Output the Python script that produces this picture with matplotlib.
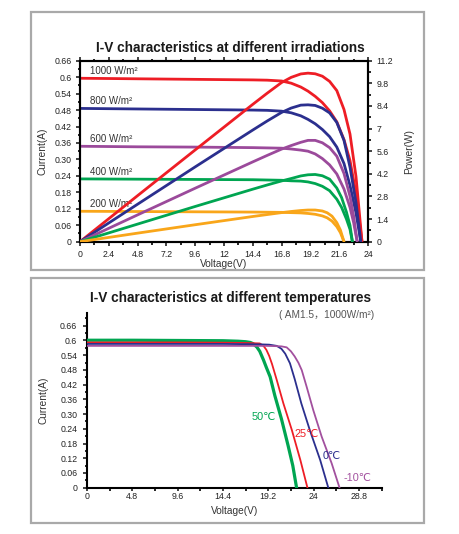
import matplotlib
matplotlib.use("Agg")
import matplotlib.pyplot as plt
from matplotlib.patches import Rectangle
from matplotlib.ticker import FixedLocator, FixedFormatter, MultipleLocator

plt.rcParams['font.family'] = ['Liberation Sans', 'DejaVu Sans', 'Noto Sans CJK SC']

# ---------------- Data: irradiation chart ----------------
irr_labels = ["1000 W/m²", "800 W/m²", "600 W/m²", "400 W/m²", "200 W/m²"]
irr_colors = ["#ee1d25", "#2b2f8e", "#9b4a9b", "#00a551", "#f9a61a"]

v_1000 = [0, 4.8, 9.6, 14.4, 15.6, 16.8, 17.6, 18.4, 19.0, 19.6, 20.2, 20.8, 21.4, 22.0, 22.5, 23.0, 23.5]
i_1000 = [0.596, 0.594, 0.592, 0.590, 0.589, 0.586, 0.578, 0.564, 0.549, 0.530, 0.507, 0.477, 0.437, 0.372, 0.296, 0.175, 0.0]
p_1000 = [0, 2.85, 5.68, 8.50, 9.19, 9.85, 10.17, 10.38, 10.43, 10.39, 10.24, 9.92, 9.35, 8.18, 6.66, 4.03, 0.0]

v_800 = [0, 4.8, 9.6, 14.4, 15.6, 16.8, 17.6, 18.4, 19.0, 19.6, 20.2, 20.8, 21.4, 22.0, 22.5, 23.0, 23.4]
i_800 = [0.486, 0.484, 0.482, 0.480, 0.479, 0.476, 0.470, 0.459, 0.446, 0.430, 0.409, 0.383, 0.345, 0.285, 0.205, 0.105, 0.0]
p_800 = [0, 2.32, 4.63, 6.91, 7.47, 8.00, 8.27, 8.45, 8.47, 8.43, 8.26, 7.97, 7.38, 6.27, 4.61, 2.42, 0.0]

v_600 = [0, 4.8, 9.6, 14.4, 15.6, 16.8, 17.6, 18.4, 19.0, 19.6, 20.2, 20.8, 21.4, 22.0, 22.5, 22.8, 23.1]
i_600 = [0.348, 0.346, 0.345, 0.343, 0.342, 0.341, 0.338, 0.334, 0.330, 0.320, 0.303, 0.280, 0.247, 0.192, 0.125, 0.070, 0.0]
p_600 = [0, 1.66, 3.31, 4.94, 5.34, 5.73, 5.95, 6.15, 6.27, 6.27, 6.12, 5.82, 5.29, 4.22, 2.81, 1.60, 0.0]

v_400 = [0, 4.8, 9.6, 14.4, 15.6, 16.8, 17.6, 18.4, 19.0, 19.6, 20.2, 20.8, 21.4, 21.8, 22.2, 22.5, 22.7]
i_400 = [0.229, 0.228, 0.227, 0.226, 0.225, 0.224, 0.222, 0.221, 0.218, 0.212, 0.202, 0.186, 0.155, 0.125, 0.083, 0.045, 0.0]
p_400 = [0, 1.09, 2.18, 3.25, 3.51, 3.76, 3.91, 4.07, 4.14, 4.16, 4.08, 3.87, 3.32, 2.73, 1.84, 1.01, 0.0]

v_200 = [0, 4.8, 9.6, 14.4, 15.6, 16.8, 17.6, 18.4, 19.0, 19.6, 20.2, 20.6, 21.0, 21.4, 21.7, 22.0]
i_200 = [0.111, 0.110, 0.109, 0.108, 0.1075, 0.107, 0.106, 0.105, 0.103, 0.100, 0.094, 0.087, 0.075, 0.055, 0.033, 0.0]
p_200 = [0, 0.53, 1.05, 1.56, 1.68, 1.80, 1.87, 1.93, 1.96, 1.96, 1.90, 1.79, 1.58, 1.18, 0.72, 0.0]

irr_v = [v_1000, v_800, v_600, v_400, v_200]
irr_i = [i_1000, i_800, i_600, i_400, i_200]
irr_p = [p_1000, p_800, p_600, p_400, p_200]

cur_ticks = [0, 0.06, 0.12, 0.18, 0.24, 0.30, 0.36, 0.42, 0.48, 0.54, 0.6, 0.66]
cur_tick_labels = ["0", "0.06", "0.12", "0.18", "0.24", "0.30", "0.36", "0.42", "0.48", "0.54", "0.6", "0.66"]
pow_ticks = [0, 1.4, 2.8, 4.2, 5.6, 7, 8.4, 9.8, 11.2]
pow_tick_labels = ["0", "1.4", "2.8", "4.2", "5.6", "7", "8.4", "9.8", "11.2"]
volt_ticks_top = [0, 2.4, 4.8, 7.2, 9.6, 12, 14.4, 16.8, 19.2, 21.6, 24]
volt_labels_top = ["0", "2.4", "4.8", "7.2", "9.6", "12", "14.4", "16.8", "19.2", "21.6", "24"]

# ---------------- Data: temperature chart ----------------
temp_labels = ["50℃", "25℃", "0℃", "-10℃"]
temp_colors = ["#00a551", "#ee1d25", "#2b2f8e", "#a2509e"]

v_50 = [0, 4.8, 9.6, 14.4, 16.0, 16.8, 17.3, 17.6, 18.0, 18.3, 18.7, 19.0, 19.4, 19.9, 20.6, 21.3, 21.8, 22.2]
i_50 = [0.601, 0.601, 0.600, 0.599, 0.597, 0.595, 0.592, 0.587, 0.573, 0.556, 0.520, 0.490, 0.452, 0.375, 0.280, 0.172, 0.090, 0.0]

v_25 = [0, 4.8, 9.6, 14.4, 16.5, 17.5, 18.3, 18.7, 19.0, 19.3, 19.6, 20.1, 20.8, 21.7, 22.6, 23.35]
i_25 = [0.592, 0.592, 0.592, 0.591, 0.590, 0.589, 0.588, 0.578, 0.562, 0.537, 0.504, 0.439, 0.344, 0.235, 0.113, 0.0]

v_0 = [0, 4.8, 9.6, 14.4, 17.0, 18.5, 19.3, 20.1, 20.6, 21.0, 21.5, 22.0, 22.7, 23.6, 24.7, 25.56]
i_0 = [0.586, 0.586, 0.586, 0.586, 0.585, 0.584, 0.583, 0.578, 0.566, 0.546, 0.507, 0.443, 0.344, 0.235, 0.113, 0.0]

v_m10 = [0, 4.8, 9.6, 14.4, 17.0, 19.0, 20.0, 20.6, 21.15, 21.6, 22.0, 22.4, 22.75, 23.27, 23.97, 24.86, 25.92, 26.75]
i_m10 = [0.578, 0.578, 0.578, 0.578, 0.578, 0.578, 0.577, 0.576, 0.572, 0.556, 0.535, 0.509, 0.479, 0.411, 0.316, 0.208, 0.099, 0.0]

temp_v = [v_50, v_25, v_0, v_m10]
temp_i = [i_50, i_25, i_0, i_m10]
temp_label_pos = [(17.4, 0.289), (22.0, 0.219), (24.96, 0.129), (27.15, 0.041)]
temp_lw = [2.3, 1.3, 1.3, 1.3]

volt_ticks_bot = [0, 4.8, 9.6, 14.4, 19.2, 24, 28.8]
volt_labels_bot = ["0", "4.8", "9.6", "14.4", "19.2", "24", "28.8"]

# ---------------- Figure ----------------
W, H = 460, 534
fig = plt.figure(figsize=(W / 100, H / 100), dpi=100)
fig.patch.set_facecolor("white")

def px_rect(x0, y0, x1, y1):
    return [x0 / W, 1 - y1 / H, (x1 - x0) / W, (y1 - y0) / H]

# panel borders
for (x0, y0, x1, y1) in [(31, 12, 424, 270), (31, 278, 424, 523)]:
    fig.patches.append(Rectangle((x0 / W, 1 - y1 / H), (x1 - x0) / W, (y1 - y0) / H,
                                 transform=fig.transFigure, fill=False,
                                 edgecolor="#a9a9a9", linewidth=1.6))

TICK_FS = 6.3
LAB_FS = 7.3

# ---------------- Top chart ----------------
ax1 = fig.add_axes(px_rect(80, 60.7, 368, 241.7))
for k in range(len(irr_v)):
    ax1.plot(irr_v[k], irr_i[k], color=irr_colors[k], lw=2.0, solid_capstyle="round", zorder=3)
ax1.set_xlim(0, 24)
ax1.set_ylim(0, 0.66)
ax1.yaxis.set_major_locator(FixedLocator(cur_ticks))
ax1.yaxis.set_major_formatter(FixedFormatter(cur_tick_labels))
ax1.yaxis.set_minor_locator(MultipleLocator(0.03))
ax1.xaxis.set_major_locator(FixedLocator(volt_ticks_top))
ax1.xaxis.set_major_formatter(FixedFormatter(volt_labels_top))
ax1.xaxis.set_minor_locator(MultipleLocator(1.2))
ax1.tick_params(axis="both", which="major", direction="out", length=3, width=1.2,
                labelsize=TICK_FS, pad=3, colors="#222222")
ax1.tick_params(axis="both", which="minor", direction="out", length=1.8, width=1.2)
ax1.tick_params(axis="x", which="both", top=True, labeltop=False)
for s in ax1.spines.values():
    s.set_linewidth(1.5)
    s.set_color("black")

for k in range(len(irr_labels)):
    ax1.text(0.85, irr_i[k][0] + 0.008, irr_labels[k], fontsize=7, color="#333333",
             ha="left", va="bottom", zorder=4)

ax2 = ax1.twinx()
for k in range(len(irr_v)):
    ax2.plot(irr_v[k], irr_p[k], color=irr_colors[k], lw=2.0, solid_capstyle="round", zorder=3)
ax2.set_ylim(0, 11.2)
ax2.yaxis.set_major_locator(FixedLocator(pow_ticks))
ax2.yaxis.set_major_formatter(FixedFormatter(pow_tick_labels))
ax2.yaxis.set_minor_locator(MultipleLocator(0.7))
ax2.tick_params(axis="y", which="major", direction="out", length=3, width=1.2,
                labelsize=TICK_FS, pad=3, colors="#222222")
ax2.tick_params(axis="y", which="minor", direction="out", length=1.8, width=1.2)
for s in ax2.spines.values():
    s.set_linewidth(1.5)

ax1.set_xlabel("Voltage(V)", fontsize=LAB_FS, labelpad=0, color="#333333")
ax1.set_ylabel("Current(A)", fontsize=LAB_FS, labelpad=5, color="#333333")
ax2.set_ylabel("Power(W)", fontsize=LAB_FS, labelpad=8, color="#333333")

fig.text(230.8 / W, 1 - 47.7 / H, "I-V characteristics at different irradiations",
         fontsize=9.8, fontweight="bold", ha="center", va="center", color="#1a1a1a")

# ---------------- Bottom chart ----------------
ax3 = fig.add_axes(px_rect(87, 313, 382, 487.7))
for k in range(len(temp_v)):
    ax3.plot(temp_v[k], temp_i[k], color=temp_colors[k], lw=temp_lw[k], zorder=3)
    ax3.text(temp_label_pos[k][0], temp_label_pos[k][1], temp_labels[k], color=temp_colors[k],
             fontsize=7.8, ha="left", va="center", zorder=4)
ax3.set_xlim(0, 31.25)
ax3.set_ylim(0, 0.712)
ax3.spines["top"].set_visible(False)
ax3.spines["right"].set_visible(False)
for s in ["left", "bottom"]:
    ax3.spines[s].set_linewidth(1.5)
ax3.yaxis.set_major_locator(FixedLocator(cur_ticks))
ax3.yaxis.set_major_formatter(FixedFormatter(cur_tick_labels))
ax3.yaxis.set_minor_locator(MultipleLocator(0.03))
ax3.xaxis.set_major_locator(FixedLocator(volt_ticks_bot))
ax3.xaxis.set_major_formatter(FixedFormatter(volt_labels_bot))
ax3.xaxis.set_minor_locator(MultipleLocator(2.4))
ax3.tick_params(axis="y", which="major", direction="out", length=3, width=1.2,
                labelsize=TICK_FS, pad=4, colors="#222222")
ax3.tick_params(axis="y", which="minor", direction="out", length=1.8, width=1.2)
ax3.tick_params(axis="x", which="major", direction="out", length=2, width=1.2,
                labelsize=TICK_FS, pad=1, colors="#222222")
ax3.tick_params(axis="x", which="minor", direction="out", length=2, width=1.2)
ax3.set_xlabel("Voltage(V)", fontsize=LAB_FS, labelpad=4, color="#333333")
ax3.set_ylabel("Current(A)", fontsize=LAB_FS, labelpad=8, color="#333333")

fig.text(230.7 / W, 1 - 298.3 / H, "I-V characteristics at different temperatures",
         fontsize=9.8, fontweight="bold", ha="center", va="center", color="#1a1a1a")
fig.text(374 / W, 1 - 315 / H, "( AM1.5，1000W/m²)", fontsize=7.3, ha="right", va="center",
         color="#555555", family=['Liberation Sans', 'Noto Sans CJK SC'])

fig.savefig("out.png", dpi=100, facecolor="white")
